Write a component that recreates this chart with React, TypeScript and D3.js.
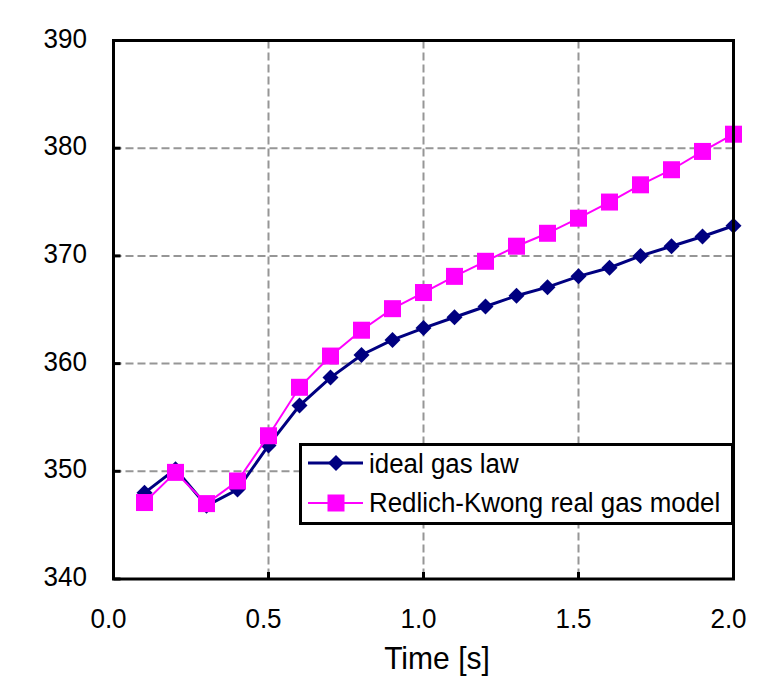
import React from "react";
import * as d3 from "d3";

const times = [0.1, 0.2, 0.3, 0.4, 0.5, 0.6, 0.7, 0.8, 0.9, 1.0, 1.1, 1.2, 1.3, 1.4, 1.5, 1.6, 1.7, 1.8, 1.9, 2.0];
const idealGas = [348.0, 350.2, 346.8, 348.3, 352.4, 356.1, 358.7, 360.8, 362.2, 363.3, 364.3, 365.3, 366.3, 367.1, 368.1, 368.9, 370.0, 370.9, 371.8, 372.8];
const redlichKwong = [347.1, 349.9, 347.0, 349.1, 353.3, 357.8, 360.7, 363.1, 365.1, 366.6, 368.1, 369.5, 370.9, 372.1, 373.5, 375.0, 376.6, 378.0, 379.7, 381.3];
const xTicks = [0.0, 0.5, 1.0, 1.5, 2.0];
const yTicks = [340, 350, 360, 370, 380, 390];
const seriesNames = ["ideal gas law", "Redlich-Kwong real gas model"];
const xTitle = "Time [s]";

const W = 763, H = 696;
const L = 113.5, R = 733.5, T = 40.5, B = 579;
const NAVY = "#000080", PINK = "#FF00FF";
const FONT = "'Liberation Sans', Arial, sans-serif";

function SText({ x, y, sx, size, anchor, children }: any) {
  return (
    <g transform={`translate(${x},${y}) scale(${sx},1)`}>
      <text x={0} y={0} fontSize={size} textAnchor={anchor} fill="#000">{children}</text>
    </g>
  );
}

export default function App() {
  const x = d3.scaleLinear().domain([0, 2]).range([L, R]);
  const y = d3.scaleLinear().domain([340, 390]).range([B, T]);
  const line = d3.line<number>().x((_, i) => x(times[i])).y((d) => y(d));
  const diamond = (cx: number, cy: number, r: number) =>
    `M${cx},${cy - r}L${cx + r},${cy}L${cx},${cy + r}L${cx - r},${cy}Z`;
  const sq = 17;

  return (
    <svg width={W} height={H} style={{ position: "absolute", left: 0, top: 0, background: "#fff" }} fontFamily={FONT}>
      {/* grid */}
      {xTicks.filter((t) => t > 0 && t < 2).map((t) => (
        <line key={"gx" + t} x1={x(t)} x2={x(t)} y1={T} y2={B} stroke="#969696" strokeWidth={2} strokeDasharray="8,4" />
      ))}
      {yTicks.filter((t) => t > 340 && t < 390).map((t) => (
        <line key={"gy" + t} x1={L} x2={R} y1={y(t)} y2={y(t)} stroke="#969696" strokeWidth={2} strokeDasharray="8,4" />
      ))}
      {/* ticks inward */}
      {xTicks.map((t) => (
        <line key={"tx" + t} x1={x(t)} x2={x(t)} y1={B} y2={B - 7} stroke="#000" strokeWidth={3} />
      ))}
      {yTicks.map((t) => (
        <line key={"ty" + t} x1={L} x2={L + 7} y1={y(t)} y2={y(t)} stroke="#000" strokeWidth={3} />
      ))}
      {/* series */}
      <path d={line(idealGas) || ""} fill="none" stroke={NAVY} strokeWidth={3} />
      {idealGas.map((v, i) => (
        <path key={"d" + i} d={diamond(x(times[i]), y(v), 8)} fill={NAVY} />
      ))}
      <path d={line(redlichKwong) || ""} fill="none" stroke={PINK} strokeWidth={2} />
      {redlichKwong.map((v, i) => (
        <rect key={"s" + i} x={x(times[i]) - sq / 2} y={y(v) - sq / 2} width={sq} height={sq} fill={PINK} />
      ))}
      {/* frame */}
      <rect x={L} y={T} width={R - L} height={B - T} fill="none" stroke="#000" strokeWidth={3} />
      {/* tick labels */}
      {xTicks.map((t) => (
        <SText key={"lx" + t} x={x(t) - 5} y={628} sx={0.93} size={28} anchor="middle">
          {d3.format(".1f")(t)}
        </SText>
      ))}
      {yTicks.map((t) => (
        <SText key={"ly" + t} x={87} y={y(t) + 7} sx={0.93} size={28} anchor="end">
          {t}
        </SText>
      ))}
      <SText x={437} y={669} sx={0.97} size={31} anchor="middle">{xTitle}</SText>
      {/* legend */}
      <rect x={300.5} y={444.5} width={432} height={79} fill="#fff" stroke="#000" strokeWidth={3} />
      <line x1={308} x2={363} y1={463} y2={463} stroke={NAVY} strokeWidth={3} />
      <path d={diamond(336, 463, 8)} fill={NAVY} />
      <SText x={369} y={473} sx={0.925} size={28} anchor="start">{seriesNames[0]}</SText>
      <line x1={308} x2={363} y1={503} y2={503} stroke={PINK} strokeWidth={2} />
      <rect x={336 - sq / 2} y={503 - sq / 2} width={sq} height={sq} fill={PINK} />
      <SText x={369} y={512} sx={0.925} size={28} anchor="start">{seriesNames[1]}</SText>
    </svg>
  );
}
